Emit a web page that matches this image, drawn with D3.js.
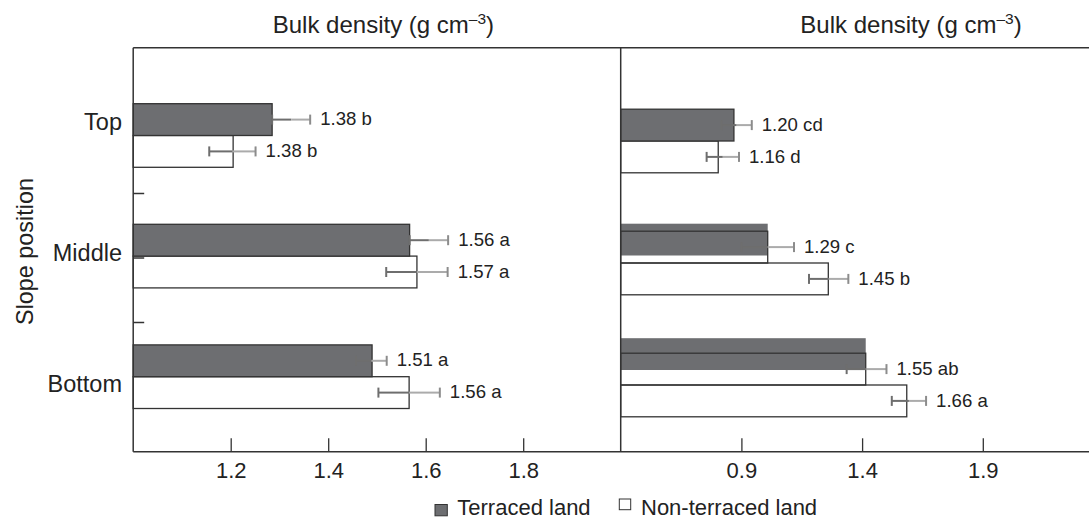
<!DOCTYPE html>
<html><head><meta charset="utf-8">
<script src="https://cdn.jsdelivr.net/npm/d3@7"></script>
<style>
body{margin:0;background:#fff}
svg text{font-family:"Liberation Sans",Arial,Helvetica,sans-serif;fill:#222}
</style>
</head><body>
<svg id="chart" width="1089" height="519"></svg>
<script>
// ---------- data ----------
const categories = ["Top", "Middle", "Bottom"];
const seriesNames = ["Terraced land", "Non-terraced land"];

// left panel (bar ends and error-bar ranges as drawn)
const leftTerraced = [1.285, 1.567, 1.490];
const leftNonTerraced = [1.205, 1.582, 1.566];
const leftTerracedErrLo = [1.285, 1.567, 1.457];
const leftTerracedErrHi = [1.363, 1.646, 1.520];
const leftNonTerracedErrLo = [1.156, 1.519, 1.503];
const leftNonTerracedErrHi = [1.251, 1.645, 1.629];
const leftTerracedLabels = ["1.38 b", "1.56 a", "1.51 a"];
const leftNonTerracedLabels = ["1.38 b", "1.57 a", "1.56 a"];
const leftTicks = [1.2, 1.4, 1.6, 1.8];

// right panel
const rightTerraced = [0.869, 1.009, 1.415];
const rightNonTerraced = [0.804, 1.260, 1.585];
const rightTerracedErrLo = [0.818, 0.901, 1.336];
const rightTerracedErrHi = [0.943, 1.118, 1.501];
const rightNonTerracedErrLo = [0.756, 1.180, 1.523];
const rightNonTerracedErrHi = [0.890, 1.343, 1.665];
const rightTerracedLabels = ["1.20 cd", "1.29 c", "1.55 ab"];
const rightNonTerracedLabels = ["1.16 d", "1.45 b", "1.66 a"];
const rightTicks = [0.9, 1.4, 1.9];

const axisTitle = "Bulk density (g cm";
const axisTitleSup = "\u20133";
const yTitle = "Slope position";

// ---------- layout ----------
const svg = d3.select("#chart");
const plotTop = 47.7, plotBottom = 451.7, left0 = 133.2, mid = 620.7, rightEdge = 1089;
const darkFill = "#6d6e71", stroke = "#333";
const errDark = "#6e6e6e", errLight = "#ababab";

const xL = d3.scaleLinear().domain([1.0, 2.0]).range([left0, mid]);
const xR = d3.scaleLinear().domain([0.4, 2.4]).range([mid, mid + 2 * 241.4]);

const yL = d3.scalePoint().domain(categories).range([135.5, 376.7]);
const yR = d3.scalePoint().domain(categories).range([141, 385]);
const yRFill = d3.scalePoint().domain(categories).range([141, 370]);
const yLab = d3.scalePoint().domain(categories).range([122, 384]);
const barH = yL.step() * 0.2637;

// ---------- bars ----------
function drawPanel(g, x, yOut, yFill, tVals, nVals, tLo, tHi, nLo, nHi, tLab, nLab) {
  const x0 = x.range()[0];
  g.append("g").selectAll("rect").data(nVals).join("rect")
    .attr("x", x0).attr("y", (d, i) => yOut(categories[i]))
    .attr("width", d => x(d) - x0).attr("height", barH)
    .attr("fill", "#fff").attr("stroke", stroke).attr("stroke-width", 1.3);
  g.append("g").selectAll("rect").data(tVals).join("rect")
    .attr("x", x0).attr("y", (d, i) => yFill(categories[i]) - barH)
    .attr("width", d => x(d) - x0).attr("height", barH)
    .attr("fill", darkFill);
  g.append("g").selectAll("rect").data(tVals).join("rect")
    .attr("x", x0).attr("y", (d, i) => yOut(categories[i]) - barH)
    .attr("width", d => x(d) - x0).attr("height", barH)
    .attr("fill", "none").attr("stroke", stroke).attr("stroke-width", 1.3);

  function errs(lo, hi, yf, labels) {
    lo.forEach((l, i) => {
      const y = yf(i), a = x(l), b = x(hi[i]), m = (a + b) / 2;
      g.append("line").attr("x1", a).attr("x2", m).attr("y1", y).attr("y2", y)
        .attr("stroke", errDark).attr("stroke-width", 2);
      g.append("line").attr("x1", m).attr("x2", b).attr("y1", y).attr("y2", y)
        .attr("stroke", errLight).attr("stroke-width", 2);
      g.append("line").attr("x1", a).attr("x2", a).attr("y1", y - 5).attr("y2", y + 5)
        .attr("stroke", errDark).attr("stroke-width", 2);
      g.append("line").attr("x1", b).attr("x2", b).attr("y1", y - 5).attr("y2", y + 5)
        .attr("stroke", "#8c8c8c").attr("stroke-width", 2);
      g.append("text").attr("x", b + 10).attr("y", y + 5.6)
        .attr("font-size", 18.6).text(labels[i]);
    });
  }
  errs(tLo, tHi, i => yOut(categories[i]) - barH / 2, tLab);
  errs(nLo, nHi, i => yOut(categories[i]) + barH / 2, nLab);
}

const gL = svg.append("g");
drawPanel(gL, xL, yL, yL, leftTerraced, leftNonTerraced,
  leftTerracedErrLo, leftTerracedErrHi, leftNonTerracedErrLo, leftNonTerracedErrHi,
  leftTerracedLabels, leftNonTerracedLabels);
const gR = svg.append("g");
drawPanel(gR, xR, yR, yRFill, rightTerraced, rightNonTerraced,
  rightTerracedErrLo, rightTerracedErrHi, rightNonTerracedErrLo, rightNonTerracedErrHi,
  rightTerracedLabels, rightNonTerracedLabels);

// ---------- frame ----------
const frame = svg.append("g").attr("stroke", stroke).attr("stroke-width", 1.5);
frame.append("line").attr("x1", left0).attr("x2", rightEdge).attr("y1", plotTop).attr("y2", plotTop);
frame.append("line").attr("x1", left0).attr("x2", rightEdge).attr("y1", plotBottom).attr("y2", plotBottom);
frame.append("line").attr("x1", left0).attr("x2", left0).attr("y1", plotTop).attr("y2", plotBottom);
frame.append("line").attr("x1", mid).attr("x2", mid).attr("y1", plotTop).attr("y2", plotBottom);

// ---------- axes ----------
function bottomAxis(x, ticks) {
  const g = svg.append("g").attr("transform", `translate(0,${plotBottom})`)
    .call(d3.axisBottom(x).tickValues(ticks).tickFormat(d3.format(".1f"))
      .tickSizeInner(-13.4).tickSizeOuter(0).tickPadding(10.7));
  g.select(".domain").remove();
  g.selectAll(".tick line").attr("stroke", stroke).attr("stroke-width", 1.3);
  g.selectAll(".tick text").attr("font-size", 22).attr("fill", "#222")
    .attr("font-family", '"Liberation Sans",Arial,sans-serif');
}
bottomAxis(xL, leftTicks);
bottomAxis(xR, rightTicks);

// left category ticks
const yTicks = d3.scalePoint().domain([0, 1, 2]).range([193, 322]);
const gyt = svg.append("g").attr("transform", `translate(${left0},0)`)
  .call(d3.axisLeft(yTicks).tickSizeInner(-11).tickSizeOuter(0).tickFormat(""));
gyt.select(".domain").remove();
gyt.selectAll(".tick line").attr("stroke", stroke).attr("stroke-width", 1.5);

// category labels
svg.append("g").selectAll("text").data(categories).join("text")
  .attr("x", 122).attr("y", d => yLab(d) + 8.3)
  .attr("text-anchor", "end").attr("font-size", 23.5).text(d => d);

// y title
svg.append("text").attr("transform", "translate(33,251.5) rotate(-90)")
  .attr("text-anchor", "middle").attr("font-size", 23.4).text(yTitle);

// panel titles
[383.4, 911].forEach(cx => {
  const t = svg.append("text").attr("x", cx).attr("y", 33.3)
    .attr("text-anchor", "middle").attr("font-size", 24);
  t.append("tspan").text(axisTitle);
  t.append("tspan").attr("font-size", 15.5).attr("dy", -9).text(axisTitleSup);
  t.append("tspan").attr("dy", 9).text(")");
});

// ---------- legend ----------
const lg = svg.append("g");
lg.append("rect").attr("x", 435).attr("y", 504.5).attr("width", 12.3).attr("height", 11.3)
  .attr("fill", darkFill).attr("stroke", stroke).attr("stroke-width", 1);
lg.append("text").attr("x", 457.3).attr("y", 514.5).attr("font-size", 22).text(seriesNames[0]);
lg.append("rect").attr("x", 619.3).attr("y", 499).attr("width", 11.4).attr("height", 10.7)
  .attr("fill", "#fff").attr("stroke", stroke).attr("stroke-width", 1);
lg.append("text").attr("x", 641).attr("y", 514.5).attr("font-size", 22).text(seriesNames[1]);
</script>
</body></html>
